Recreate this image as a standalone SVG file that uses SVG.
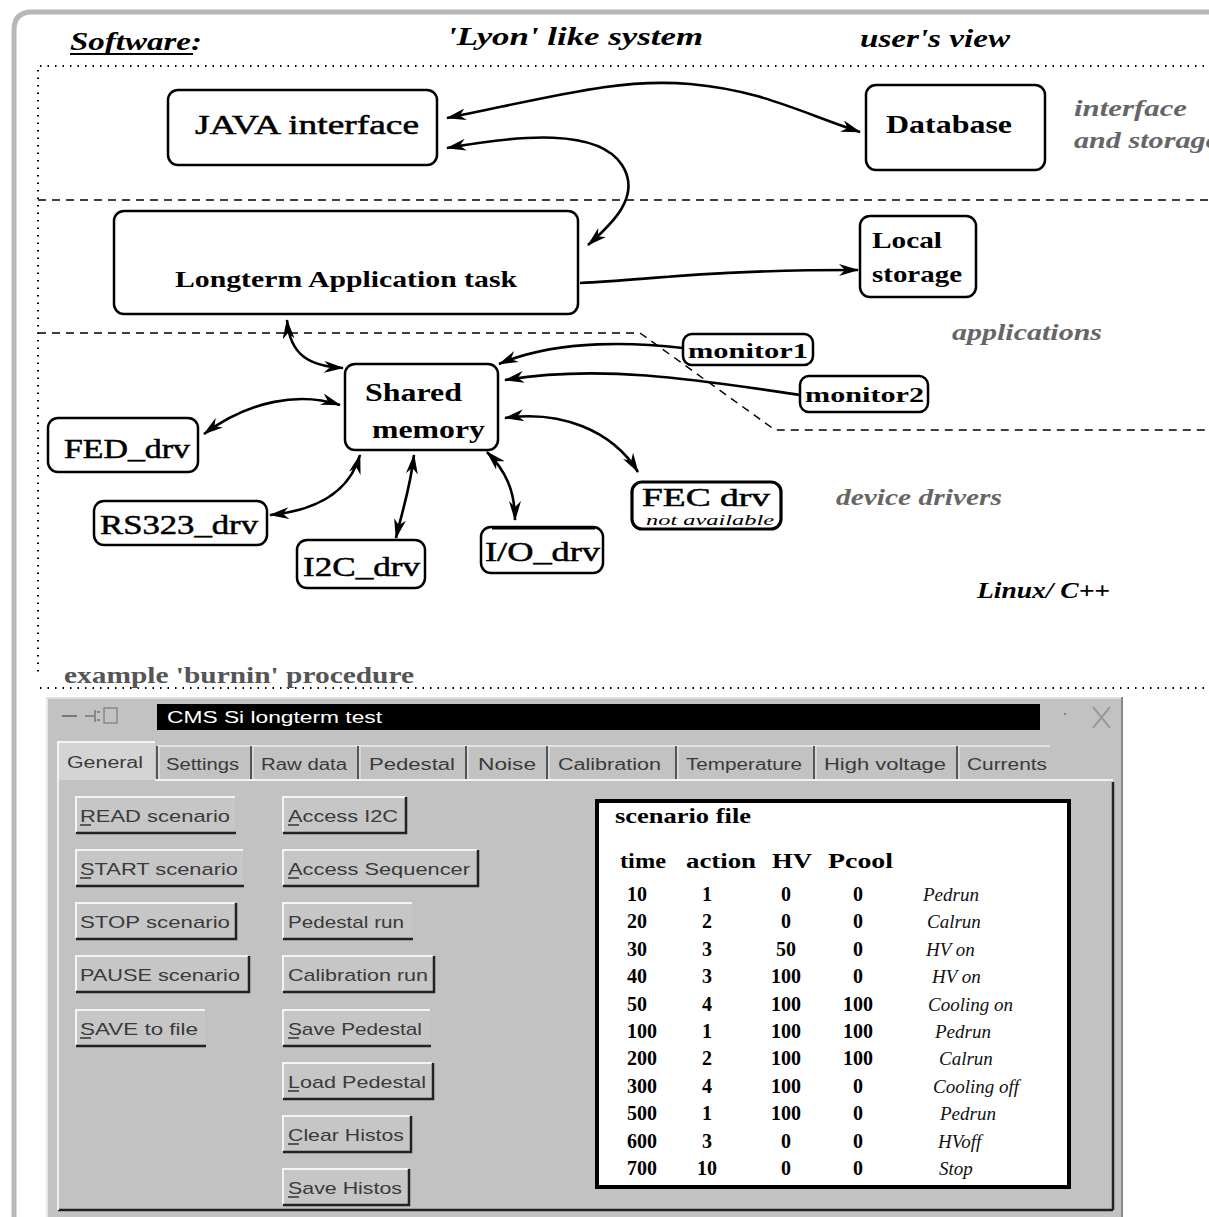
<svg xmlns="http://www.w3.org/2000/svg" width="1209" height="1217" viewBox="0 0 1209 1217">
<defs>
<marker id="ah" viewBox="0 0 20 12" refX="19" refY="6" markerWidth="20" markerHeight="12" markerUnits="userSpaceOnUse" orient="auto-start-reverse">
<path d="M0,0 L20,6 L0,12 L6,6 Z" fill="#000"/>
</marker>
<style>
.node{fill:#fff;stroke:#000;stroke-width:2.5}
.lbl{font-family:"Liberation Serif",serif;fill:#000}
.b{font-weight:bold}
.side{font-family:"Liberation Serif",serif;font-style:italic;font-weight:bold;fill:#666;font-size:23px}
.con{fill:none;stroke:#000;stroke-width:2.6}
.dot{fill:none;stroke:#000;stroke-width:2;stroke-dasharray:1.5 6}
.dash{fill:none;stroke:#000;stroke-width:1.4;stroke-dasharray:8 6}
.ui{font-family:"Liberation Sans",Arial,sans-serif;font-size:17px;fill:#3a3a3a}
.tab{font-family:"Liberation Sans",Arial,sans-serif;font-size:16px;fill:#3a3a3a}
.btn{fill:#c6c6c6}
.hi{stroke:#f4f4f4;stroke-width:2;fill:none}
.sh{stroke:#222;stroke-width:2.5;fill:none}
.tb{font-family:"Liberation Serif",serif;font-weight:bold;font-size:20px;fill:#000}
.tc{font-family:"Liberation Serif",serif;font-style:italic;font-size:19px;fill:#111}
</style>
</defs>
<rect x="0" y="0" width="1209" height="1217" fill="#fff"/>
<path d="M14,1217 V30 Q14,12 32,12 H1209" fill="none" stroke="#b8b8b8" stroke-width="5"/>

<g id="titles">
<text class="lbl b" x="70" y="50" font-size="26" font-style="italic" textLength="132" lengthAdjust="spacingAndGlyphs">Software:</text>
<line x1="70" y1="54" x2="193" y2="54" stroke="#000" stroke-width="2"/>
<text class="lbl b" x="447" y="45" font-size="26" font-style="italic" textLength="256" lengthAdjust="spacingAndGlyphs">'Lyon' like system</text>
<text class="lbl b" x="860" y="47" font-size="26" font-style="italic" textLength="150" lengthAdjust="spacingAndGlyphs">user's view</text>
</g>

<g id="separators">
<path class="dot" d="M40,66 H1209"/>
<path class="dot" d="M38,70 V675"/>
<path class="dot" d="M40,688 H1209"/>
<path class="dash" d="M38,200 H1209"/>
<path class="dash" d="M38,333 H640 L775,430 H1209"/>
</g>

<g id="side-labels">
<text class="side" x="1074" y="116" textLength="113" lengthAdjust="spacingAndGlyphs">interface</text>
<text class="side" x="1074" y="148" textLength="145" lengthAdjust="spacingAndGlyphs">and storage</text>
<text class="side" x="952" y="340" textLength="150" lengthAdjust="spacingAndGlyphs">applications</text>
<text class="side" x="836" y="505" textLength="166" lengthAdjust="spacingAndGlyphs">device drivers</text>
<text class="side" x="977" y="598" style="fill:#000" textLength="133" lengthAdjust="spacingAndGlyphs">Linux/ C++</text>
<text class="lbl b" x="64" y="683" font-size="24" style="fill:#555" textLength="350" lengthAdjust="spacingAndGlyphs">example 'burnin' procedure</text>
</g>

<g id="connectors">
<path class="con" marker-start="url(#ah)" marker-end="url(#ah)" d="M447,118 C560,95 620,78 690,84 S800,112 860,132"/>
<path class="con" marker-start="url(#ah)" marker-end="url(#ah)" d="M447,148 C520,135 598,128 622,165 C642,196 612,224 588,245"/>
<path class="con" marker-end="url(#ah)" d="M580,283 C650,280 700,270 858,270"/>
<path class="con" marker-start="url(#ah)" marker-end="url(#ah)" d="M343,368 C310,366 290,356 287,320"/>
<path class="con" marker-end="url(#ah)" d="M683,348 C640,343 560,338 499,364"/>
<path class="con" marker-end="url(#ah)" d="M800,395 C700,380 600,364 505,380"/>
<path class="con" marker-start="url(#ah)" marker-end="url(#ah)" d="M505,418 C560,410 612,430 638,472"/>
<path class="con" marker-start="url(#ah)" marker-end="url(#ah)" d="M340,405 C300,392 250,400 204,434"/>
<path class="con" marker-start="url(#ah)" marker-end="url(#ah)" d="M360,455 C350,490 320,510 270,515"/>
<path class="con" marker-start="url(#ah)" marker-end="url(#ah)" d="M414,455 C410,490 401,515 396,538"/>
<path class="con" marker-start="url(#ah)" marker-end="url(#ah)" d="M487,452 C505,470 515,490 515,520"/>
</g>

<g id="java">
<rect class="node" x="168" y="90" width="269" height="75" rx="10"/>
<text class="lbl" x="195" y="134" font-size="28" textLength="224" lengthAdjust="spacingAndGlyphs" stroke="#000" stroke-width="0.5">JAVA interface</text>
</g>
<g id="database">
<rect class="node" x="866" y="85" width="179" height="85" rx="10"/>
<text class="lbl b" x="886" y="133" font-size="26" textLength="126" lengthAdjust="spacingAndGlyphs">Database</text>
</g>
<g id="longterm">
<rect class="node" x="114" y="211" width="464" height="103" rx="10"/>
<text class="lbl b" x="175" y="287" font-size="24" textLength="342" lengthAdjust="spacingAndGlyphs">Longterm Application task</text>
</g>
<g id="local-storage">
<rect class="node" x="860" y="216" width="116" height="81" rx="10"/>
<text class="lbl b" x="872" y="248" font-size="23" textLength="70" lengthAdjust="spacingAndGlyphs">Local</text>
<text class="lbl b" x="872" y="282" font-size="23" textLength="90" lengthAdjust="spacingAndGlyphs">storage</text>
</g>
<g id="shared-memory">
<rect class="node" x="345" y="364" width="153" height="86" rx="10"/>
<text class="lbl b" x="365" y="401" font-size="25" textLength="97" lengthAdjust="spacingAndGlyphs">Shared</text>
<text class="lbl b" x="372" y="438" font-size="25" textLength="113" lengthAdjust="spacingAndGlyphs">memory</text>
</g>
<g id="monitor1">
<rect class="node" x="683" y="334" width="130" height="31" rx="9"/>
<text class="lbl b" x="688" y="358" font-size="22" textLength="120" lengthAdjust="spacingAndGlyphs">monitor1</text>
</g>
<g id="monitor2">
<rect class="node" x="800" y="376" width="128" height="36" rx="9"/>
<text class="lbl b" x="805" y="402" font-size="22" textLength="119" lengthAdjust="spacingAndGlyphs">monitor2</text>
</g>
<g id="fed-drv">
<rect class="node" x="48" y="418" width="150" height="54" rx="10"/>
<text class="lbl" x="64" y="458" font-size="27" textLength="126" lengthAdjust="spacingAndGlyphs" stroke="#000" stroke-width="0.5">FED_drv</text>
</g>
<g id="rs323-drv">
<rect class="node" x="94" y="501" width="173" height="44" rx="10"/>
<text class="lbl" x="100" y="534" font-size="27" textLength="158" lengthAdjust="spacingAndGlyphs" stroke="#000" stroke-width="0.5">RS323_drv</text>
</g>
<g id="i2c-drv">
<rect class="node" x="297" y="540" width="128" height="48" rx="10"/>
<text class="lbl" x="303" y="576" font-size="27" textLength="117" lengthAdjust="spacingAndGlyphs" stroke="#000" stroke-width="0.5">I2C_drv</text>
</g>
<g id="io-drv">
<rect class="node" x="481" y="527" width="122" height="46" rx="10"/>
<line x1="492" y1="528" x2="595" y2="528" stroke="#000" stroke-width="3"/>
<text class="lbl" x="485" y="561" font-size="27" textLength="115" lengthAdjust="spacingAndGlyphs" stroke="#000" stroke-width="0.5">I/O_drv</text>
</g>
<g id="fec-drv">
<rect class="node" x="632" y="482" width="149" height="47" rx="10" style="stroke-width:3.2"/>
<text class="lbl" x="642" y="506" font-size="25" textLength="128" lengthAdjust="spacingAndGlyphs" stroke="#000" stroke-width="0.5">FEC drv</text>
<text class="lbl" x="646" y="525" font-size="14" font-style="italic" textLength="128" lengthAdjust="spacingAndGlyphs">not available</text>
</g>

<g id="window">
<rect x="46" y="697" width="1077" height="520" fill="#c2c2c2"/>
<line x1="47" y1="697" x2="47" y2="1217" stroke="#e8e8e8" stroke-width="2"/>
<line x1="46" y1="698" x2="1123" y2="698" stroke="#e0e0e0" stroke-width="2"/>
<line x1="1122" y1="697" x2="1122" y2="1217" stroke="#888" stroke-width="2"/>
<line x1="62" y1="716" x2="77" y2="716" stroke="#777" stroke-width="2"/>
<path d="M85,716 H95 M95,710 V722 M97,712 H100 M97,720 H100" stroke="#888" stroke-width="2" fill="none"/>
<rect x="104" y="708" width="13" height="15" fill="none" stroke="#888" stroke-width="1.5"/>
<rect x="157" y="704" width="883" height="26" fill="#000"/>
<text x="167" y="723" font-family="Liberation Sans,Arial,sans-serif" font-size="16" fill="#fff" textLength="215" lengthAdjust="spacingAndGlyphs">CMS Si longterm test</text>
<circle cx="1065" cy="714" r="1.2" fill="#888"/>
<path d="M1093,707 L1110,728 M1110,707 L1093,728" stroke="#999" stroke-width="2" fill="none"/>
<line x1="157" y1="746" x2="1050" y2="746" stroke="#eee" stroke-width="1.5"/>
<rect x="58" y="741" width="97" height="39" fill="#d4d4d4"/>
<path d="M58,780 V742 H155" class="hi"/>
<path d="M157,746 V779 M251,746 V779 M358,746 V779 M466,746 V779 M547,746 V779 M676,746 V779 M814,746 V779 M957,746 V779" stroke="#333" stroke-width="1.5" fill="none"/>
<path d="M159,747 V779 M253,747 V779 M360,747 V779 M468,747 V779 M549,747 V779 M678,747 V779 M816,747 V779 M959,747 V779" stroke="#eee" stroke-width="1" fill="none"/>
<text class="tab" x="67" y="768" textLength="76" lengthAdjust="spacingAndGlyphs">General</text>
<text class="tab" x="166" y="770" textLength="73" lengthAdjust="spacingAndGlyphs">Settings</text>
<text class="tab" x="261" y="770" textLength="86" lengthAdjust="spacingAndGlyphs">Raw data</text>
<text class="tab" x="369" y="770" textLength="86" lengthAdjust="spacingAndGlyphs">Pedestal</text>
<text class="tab" x="478" y="770" textLength="58" lengthAdjust="spacingAndGlyphs">Noise</text>
<text class="tab" x="558" y="770" textLength="103" lengthAdjust="spacingAndGlyphs">Calibration</text>
<text class="tab" x="686" y="770" textLength="116" lengthAdjust="spacingAndGlyphs">Temperature</text>
<text class="tab" x="824" y="770" textLength="122" lengthAdjust="spacingAndGlyphs">High voltage</text>
<text class="tab" x="967" y="770" textLength="80" lengthAdjust="spacingAndGlyphs">Currents</text>
<line x1="155" y1="780" x2="1113" y2="780" stroke="#f2f2f2" stroke-width="2"/>
<line x1="1113" y1="782" x2="1113" y2="1210" stroke="#222" stroke-width="2.5"/>
<line x1="58" y1="1210" x2="1113" y2="1210" stroke="#222" stroke-width="2.5"/>
<line x1="58" y1="780" x2="58" y2="1210" stroke="#f0f0f0" stroke-width="2"/>
</g>

<g id="buttons">
<g id="btn-read"><rect class="btn" x="76" y="797" width="159" height="35"/><path class="hi" d="M76,832 V797 H235"/><path class="sh" d="M76,833 H236"/><text class="ui" x="80" y="822" textLength="150" lengthAdjust="spacingAndGlyphs">READ scenario</text><line x1="80" y1="825" x2="91" y2="825" stroke="#333" stroke-width="1.5"/></g>
<g id="btn-start"><rect class="btn" x="76" y="850" width="167" height="35"/><path class="hi" d="M76,885 V850 H243"/><path class="sh" d="M76,886 H244"/><text class="ui" x="80" y="875" textLength="158" lengthAdjust="spacingAndGlyphs">START scenario</text><line x1="80" y1="878" x2="91" y2="878" stroke="#333" stroke-width="1.5"/></g>
<g id="btn-stop"><rect class="btn" x="76" y="903" width="159" height="35"/><path class="hi" d="M76,938 V903 H235"/><path class="sh" d="M76,939 H236 V903"/><text class="ui" x="80" y="928" textLength="150" lengthAdjust="spacingAndGlyphs">STOP scenario</text></g>
<g id="btn-pause"><rect class="btn" x="76" y="956" width="172" height="35"/><path class="hi" d="M76,991 V956 H248"/><path class="sh" d="M76,992 H249 V956"/><text class="ui" x="80" y="981" textLength="160" lengthAdjust="spacingAndGlyphs">PAUSE scenario</text></g>
<g id="btn-save-file"><rect class="btn" x="76" y="1010" width="129" height="35"/><path class="hi" d="M76,1045 V1010 H205"/><path class="sh" d="M76,1046 H206"/><text class="ui" x="80" y="1035" textLength="118" lengthAdjust="spacingAndGlyphs">SAVE to file</text><line x1="80" y1="1038" x2="91" y2="1038" stroke="#333" stroke-width="1.5"/></g>
<g id="btn-i2c"><rect class="btn" x="283" y="797" width="122" height="35"/><path class="hi" d="M283,832 V797 H405"/><path class="sh" d="M283,833 H406 V797"/><text class="ui" x="288" y="822" textLength="110" lengthAdjust="spacingAndGlyphs">Access I2C</text><line x1="288" y1="825" x2="299" y2="825" stroke="#333" stroke-width="1.5"/></g>
<g id="btn-seq"><rect class="btn" x="283" y="850" width="194" height="35"/><path class="hi" d="M283,885 V850 H477"/><path class="sh" d="M283,886 H478 V850"/><text class="ui" x="288" y="875" textLength="182" lengthAdjust="spacingAndGlyphs">Access Sequencer</text><line x1="288" y1="878" x2="299" y2="878" stroke="#333" stroke-width="1.5"/></g>
<g id="btn-ped-run"><rect class="btn" x="283" y="903" width="129" height="35"/><path class="hi" d="M283,938 V903 H412"/><path class="sh" d="M283,939 H413"/><text class="ui" x="288" y="928" textLength="116" lengthAdjust="spacingAndGlyphs">Pedestal run</text></g>
<g id="btn-cal-run"><rect class="btn" x="283" y="956" width="150" height="35"/><path class="hi" d="M283,991 V956 H433"/><path class="sh" d="M283,992 H434 V956"/><text class="ui" x="288" y="981" textLength="140" lengthAdjust="spacingAndGlyphs">Calibration run</text></g>
<g id="btn-save-ped"><rect class="btn" x="283" y="1010" width="147" height="35"/><path class="hi" d="M283,1045 V1010 H430"/><path class="sh" d="M283,1046 H431"/><text class="ui" x="288" y="1035" textLength="134" lengthAdjust="spacingAndGlyphs">Save Pedestal</text><line x1="288" y1="1038" x2="299" y2="1038" stroke="#333" stroke-width="1.5"/></g>
<g id="btn-load-ped"><rect class="btn" x="283" y="1063" width="149" height="35"/><path class="hi" d="M283,1098 V1063 H432"/><path class="sh" d="M283,1099 H433 V1063"/><text class="ui" x="288" y="1088" textLength="138" lengthAdjust="spacingAndGlyphs">Load Pedestal</text><line x1="288" y1="1091" x2="299" y2="1091" stroke="#333" stroke-width="1.5"/></g>
<g id="btn-clear"><rect class="btn" x="283" y="1116" width="127" height="35"/><path class="hi" d="M283,1151 V1116 H410"/><path class="sh" d="M283,1152 H411 V1116"/><text class="ui" x="288" y="1141" textLength="116" lengthAdjust="spacingAndGlyphs">Clear Histos</text><line x1="288" y1="1144" x2="299" y2="1144" stroke="#333" stroke-width="1.5"/></g>
<g id="btn-save-histos"><rect class="btn" x="283" y="1169" width="125" height="35"/><path class="hi" d="M283,1204 V1169 H408"/><path class="sh" d="M283,1205 H409 V1169"/><text class="ui" x="288" y="1194" textLength="114" lengthAdjust="spacingAndGlyphs">Save Histos</text><line x1="288" y1="1197" x2="299" y2="1197" stroke="#333" stroke-width="1.5"/></g>
</g>

<g id="scenario-file">
<rect x="597" y="801" width="472" height="386" fill="#fff" stroke="#000" stroke-width="4"/>
<text class="tb" x="615" y="823" font-size="19" textLength="136" lengthAdjust="spacingAndGlyphs">scenario file</text>
<text class="tb" x="620" y="868" textLength="46" lengthAdjust="spacingAndGlyphs">time</text>
<text class="tb" x="686" y="868" textLength="70" lengthAdjust="spacingAndGlyphs">action</text>
<text class="tb" x="772" y="868" textLength="40" lengthAdjust="spacingAndGlyphs">HV</text>
<text class="tb" x="828" y="868" textLength="65" lengthAdjust="spacingAndGlyphs">Pcool</text>
<g class="tb">
<text x="627" y="901">10</text><text x="707" y="901" text-anchor="middle">1</text><text x="786" y="901" text-anchor="middle">0</text><text x="858" y="901" text-anchor="middle">0</text>
<text x="627" y="928">20</text><text x="707" y="928" text-anchor="middle">2</text><text x="786" y="928" text-anchor="middle">0</text><text x="858" y="928" text-anchor="middle">0</text>
<text x="627" y="956">30</text><text x="707" y="956" text-anchor="middle">3</text><text x="786" y="956" text-anchor="middle">50</text><text x="858" y="956" text-anchor="middle">0</text>
<text x="627" y="983">40</text><text x="707" y="983" text-anchor="middle">3</text><text x="786" y="983" text-anchor="middle">100</text><text x="858" y="983" text-anchor="middle">0</text>
<text x="627" y="1011">50</text><text x="707" y="1011" text-anchor="middle">4</text><text x="786" y="1011" text-anchor="middle">100</text><text x="858" y="1011" text-anchor="middle">100</text>
<text x="627" y="1038">100</text><text x="707" y="1038" text-anchor="middle">1</text><text x="786" y="1038" text-anchor="middle">100</text><text x="858" y="1038" text-anchor="middle">100</text>
<text x="627" y="1065">200</text><text x="707" y="1065" text-anchor="middle">2</text><text x="786" y="1065" text-anchor="middle">100</text><text x="858" y="1065" text-anchor="middle">100</text>
<text x="627" y="1093">300</text><text x="707" y="1093" text-anchor="middle">4</text><text x="786" y="1093" text-anchor="middle">100</text><text x="858" y="1093" text-anchor="middle">0</text>
<text x="627" y="1120">500</text><text x="707" y="1120" text-anchor="middle">1</text><text x="786" y="1120" text-anchor="middle">100</text><text x="858" y="1120" text-anchor="middle">0</text>
<text x="627" y="1148">600</text><text x="707" y="1148" text-anchor="middle">3</text><text x="786" y="1148" text-anchor="middle">0</text><text x="858" y="1148" text-anchor="middle">0</text>
<text x="627" y="1175">700</text><text x="707" y="1175" text-anchor="middle">10</text><text x="786" y="1175" text-anchor="middle">0</text><text x="858" y="1175" text-anchor="middle">0</text>
</g>
<g class="tc">
<text x="923" y="901">Pedrun</text>
<text x="927" y="928">Calrun</text>
<text x="926" y="956">HV on</text>
<text x="932" y="983">HV on</text>
<text x="928" y="1011">Cooling on</text>
<text x="935" y="1038">Pedrun</text>
<text x="939" y="1065">Calrun</text>
<text x="933" y="1093">Cooling off</text>
<text x="940" y="1120">Pedrun</text>
<text x="938" y="1148">HVoff</text>
<text x="939" y="1175">Stop</text>
</g>
</g>
</svg>
